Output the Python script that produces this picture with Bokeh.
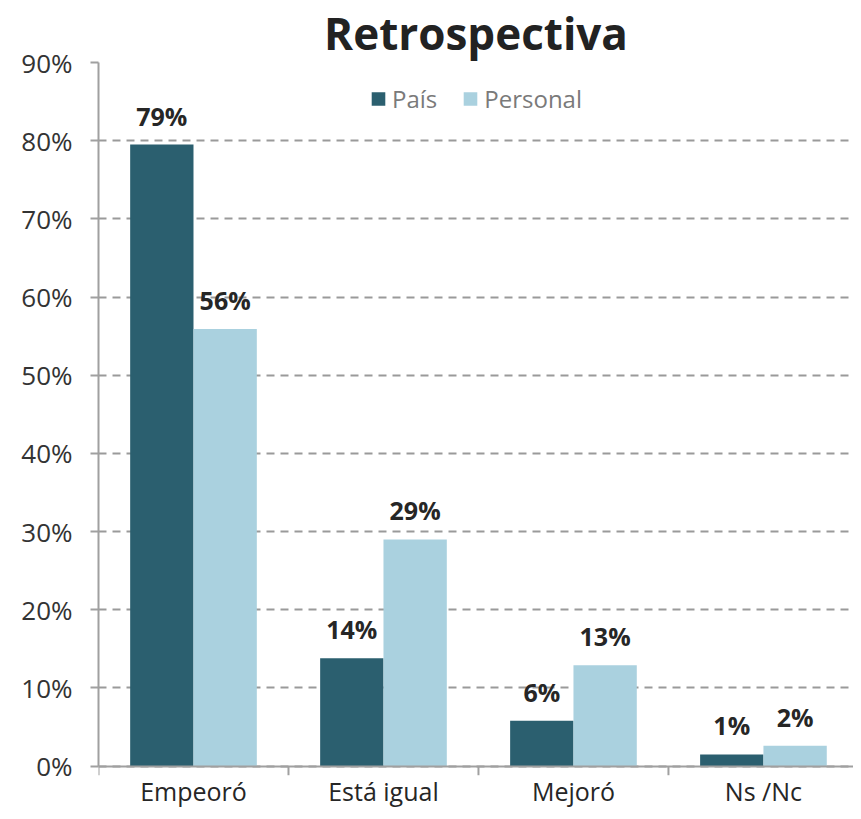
from bokeh.plotting import figure
from bokeh.models import (ColumnDataSource, Range1d, FixedTicker, NumeralTickFormatter,
                          Legend, LegendItem, LabelSet)
from bokeh.embed import file_html
from bokeh.resources import INLINE
from bokeh.core.properties import value

categories = ["Empeoró", "Está igual", "Mejoró", "Ns /Nc"]
pais = [0.795, 0.138, 0.058, 0.015]
personal = [0.559, 0.290, 0.129, 0.026]
pais_labels = ["79%", "14%", "6%", "1%"]
personal_labels = ["56%", "29%", "13%", "2%"]
series_names = ["País", "Personal"]
y_ticks = [0, 0.1, 0.2, 0.3, 0.4, 0.5, 0.6, 0.7, 0.8, 0.9]

DARK = "#2B5F6F"
LIGHT = "#AAD1DF"
AXIS = "#A0A0A0"
FONT = "Open Sans"

centers = [i + 0.5 for i in range(len(categories))]
bounds = list(range(len(categories) + 1))
bw = 1.0 / 3.0
tick_len = 0.0116  # length of category separator ticks, in data units
src_pais = ColumnDataSource(dict(x=[c - bw / 2 for c in centers], top=pais, lab=pais_labels))
src_pers = ColumnDataSource(dict(x=[c + bw / 2 for c in centers], top=personal, lab=personal_labels))

p = figure(width=853, height=811, output_backend="svg", toolbar_location=None,
           x_range=Range1d(0, 3.974), y_range=Range1d(-0.058, 0.9),
           title="Retrospectiva", min_border_left=98, min_border_right=0,
           min_border_top=0, min_border_bottom=0)
p.outline_line_color = None
p.background_fill_color = "white"
p.border_fill_color = "white"

p.title.text_font = FONT
p.title.text_font_size = "44px"
p.title.text_font_style = "bold"
p.title.text_color = "#222222"
p.title.align = "center"
p.title.offset = 0
p.title.standoff = 0

r1 = p.vbar(x="x", top="top", width=bw, source=src_pais, color=DARK, line_color=None)
r2 = p.vbar(x="x", top="top", width=bw, source=src_pers, color=LIGHT, line_color=None)

# category separator ticks below the x axis
p.segment(x0=bounds, y0=[0] * len(bounds), x1=bounds, y1=[-tick_len] * len(bounds),
          line_color=AXIS, line_width=2)

for s in (src_pais, src_pers):
    p.add_layout(LabelSet(x="x", y="top", text="lab", source=s, text_align="center",
                          text_baseline="bottom", y_offset=12,
                          text_font=value(FONT), text_font_size="25px",
                          text_font_style="bold", text_color="#262626"))

# Y axis
p.yaxis.ticker = FixedTicker(ticks=y_ticks)
p.yaxis.bounds = (0, 0.9)
p.yaxis.formatter = NumeralTickFormatter(format="0%")
p.yaxis.axis_line_color = AXIS
p.yaxis.axis_line_width = 2
p.yaxis.major_tick_line_color = AXIS
p.yaxis.major_tick_line_width = 2
p.yaxis.major_tick_in = 0
p.yaxis.major_tick_out = 8
p.yaxis.minor_tick_line_color = None
p.yaxis.major_label_text_font = FONT
p.yaxis.major_label_text_font_size = "26px"
p.yaxis.major_label_text_color = "#333333"
p.yaxis.major_label_standoff = 18

# X axis placed at y = 0
p.xaxis.fixed_location = 0
p.xaxis.ticker = FixedTicker(ticks=centers)
p.xaxis.major_label_overrides = {c: n for c, n in zip(centers, categories)}
p.xaxis.axis_line_color = AXIS
p.xaxis.axis_line_width = 2
p.xaxis.major_tick_line_color = None
p.xaxis.major_tick_out = 0
p.xaxis.major_tick_in = 0
p.xaxis.minor_tick_line_color = None
p.xaxis.minor_tick_in = 0
p.xaxis.minor_tick_out = 0
p.xaxis.major_label_text_font = FONT
p.xaxis.major_label_text_font_size = "25px"
p.xaxis.major_label_text_color = "#262626"
p.xaxis.major_label_standoff = 8

p.xgrid.grid_line_color = None
p.ygrid.grid_line_color = "#9A9A9A"
p.ygrid.grid_line_width = 2
p.ygrid.grid_line_dash = "8 6"

legend = Legend(items=[LegendItem(label=series_names[0], renderers=[r1]),
                       LegendItem(label=series_names[1], renderers=[r2])],
                orientation="horizontal", location="top_center",
                label_text_font=FONT, label_text_font_size="24px",
                label_text_color="#7A7A7A", glyph_width=17, glyph_height=17,
                spacing=24, label_standoff=6, border_line_color=None,
                background_fill_alpha=0, margin=20, padding=8)
p.add_layout(legend)

open("out.html", "w").write(file_html(p, INLINE))
